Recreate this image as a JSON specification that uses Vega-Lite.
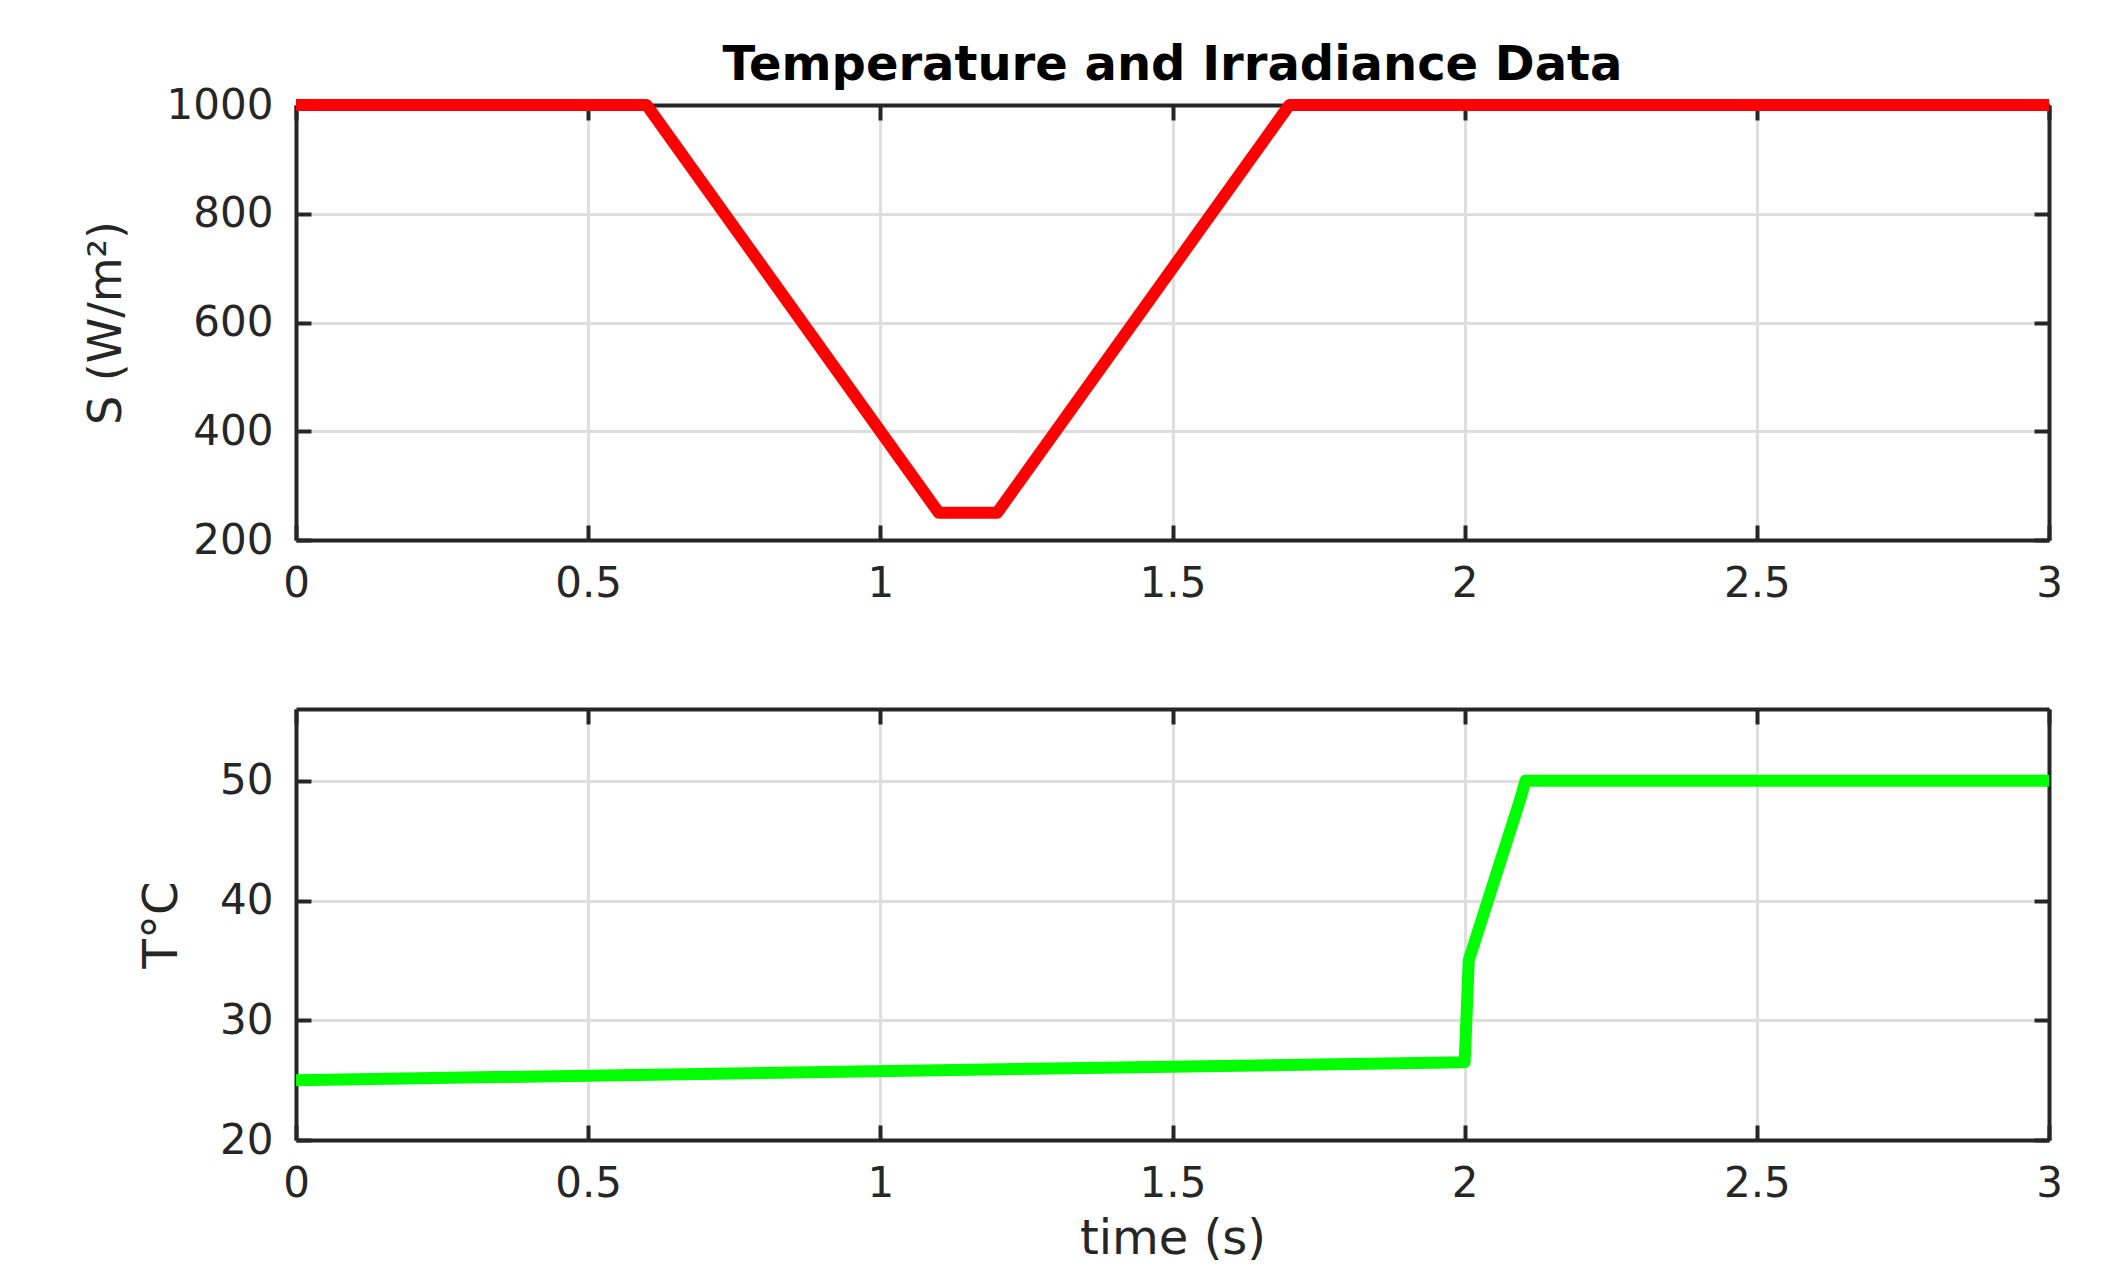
{
  "$schema": "https://vega.github.io/schema/vega-lite/v6.json",
  "background": "white",
  "padding": {"left": 82, "top": 42, "right": 5, "bottom": 0},
  "title": {"text": "Temperature and Irradiance Data", "fontSize": 48, "font": "DejaVu Sans", "fontWeight": "bold", "color": "#000000", "anchor": "middle", "frame": "group", "baseline": "alphabetic", "offset": -44},
  "spacing": 169,
  "bounds": "flush",
  "datasets": {
    "irr": [
      {"t": 0, "S": 1000},
      {"t": 0.6, "S": 1000},
      {"t": 1.1, "S": 250},
      {"t": 1.2, "S": 250},
      {"t": 1.7, "S": 1000},
      {"t": 3, "S": 1000}
    ],
    "temp": [
      {"t": 0, "T": 25},
      {"t": 2, "T": 26.5},
      {"t": 2.007, "T": 35},
      {"t": 2.096, "T": 48.6},
      {"t": 2.104, "T": 50},
      {"t": 3, "T": 50}
    ]
  },
  "vconcat": [
    {
      "width": 1753,
      "height": 435,
      "data": {"name": "irr"},
      "layer": [
        {
          "mark": {"type": "line", "color": "#ff0000", "strokeWidth": 12, "strokeJoin": "round", "strokeCap": "butt"},
          "encoding": {
            "x": {"field": "t", "type": "quantitative", "scale": {"domain": [0, 3], "nice": false, "zero": false},
              "axis": {"orient": "bottom", "values": [0, 0.5, 1, 1.5, 2, 2.5, 3], "format": ".2~f", "title": null, "grid": true, "labelPadding": 38}},
            "y": {"field": "S", "type": "quantitative", "scale": {"domain": [200, 1000], "nice": false, "zero": false},
              "axis": {"orient": "left", "values": [200, 400, 600, 800, 1000], "format": "d", "title": "S (W/m²)", "titleX": -190, "titleBaseline": "middle", "titleFontSize": 46, "grid": true, "labelPadding": 38}}
          }
        },
        {
          "mark": {"type": "line", "opacity": 0},
          "encoding": {
            "x": {"field": "t", "type": "quantitative",
              "axis": {"orient": "top", "values": [0, 0.5, 1, 1.5, 2, 2.5, 3], "labels": false, "grid": false, "title": null}},
            "y": {"field": "S", "type": "quantitative",
              "axis": {"orient": "right", "values": [200, 400, 600, 800, 1000], "labels": false, "grid": false, "title": null}}
          }
        }
      ],
      "resolve": {"axis": {"x": "independent", "y": "independent"}}
    },
    {
      "width": 1753,
      "height": 431,
      "data": {"name": "temp"},
      "layer": [
        {
          "mark": {"type": "line", "color": "#00ff00", "strokeWidth": 12, "strokeJoin": "round", "strokeCap": "butt"},
          "encoding": {
            "x": {"field": "t", "type": "quantitative", "scale": {"domain": [0, 3], "nice": false, "zero": false},
              "axis": {"orient": "bottom", "values": [0, 0.5, 1, 1.5, 2, 2.5, 3], "format": ".2~f", "title": "time (s)", "titleY": 113, "titleBaseline": "alphabetic", "titleFontSize": 48, "grid": true, "labelPadding": 38}},
            "y": {"field": "T", "type": "quantitative", "scale": {"domain": [20, 56], "nice": false, "zero": false},
              "axis": {"orient": "left", "values": [20, 30, 40, 50], "format": "d", "title": "T°C", "titleX": -134, "titleBaseline": "middle", "titleFontSize": 48, "grid": true, "labelPadding": 38}}
          }
        },
        {
          "mark": {"type": "line", "opacity": 0},
          "encoding": {
            "x": {"field": "t", "type": "quantitative",
              "axis": {"orient": "top", "values": [0, 0.5, 1, 1.5, 2, 2.5, 3], "labels": false, "grid": false, "title": null}},
            "y": {"field": "T", "type": "quantitative",
              "axis": {"orient": "right", "values": [20, 30, 40, 50], "labels": false, "grid": false, "title": null}}
          }
        }
      ],
      "resolve": {"axis": {"x": "independent", "y": "independent"}}
    }
  ],
  "config": {
    "font": "DejaVu Sans",
    "view": {"stroke": null},
    "axis": {
      "domainColor": "#262626", "domainWidth": 4,
      "tickColor": "#262626", "tickWidth": 4, "tickSize": -15,
      "labelFont": "DejaVu Sans", "labelFontSize": 42, "labelColor": "#262626",
      "labelFlush": false, "labelOverlap": false,
      "gridColor": "#dedede", "gridWidth": 3,
      "titleFont": "DejaVu Sans", "titleFontWeight": "normal", "titleColor": "#262626", "titleFontSize": 46
    }
  }
}
